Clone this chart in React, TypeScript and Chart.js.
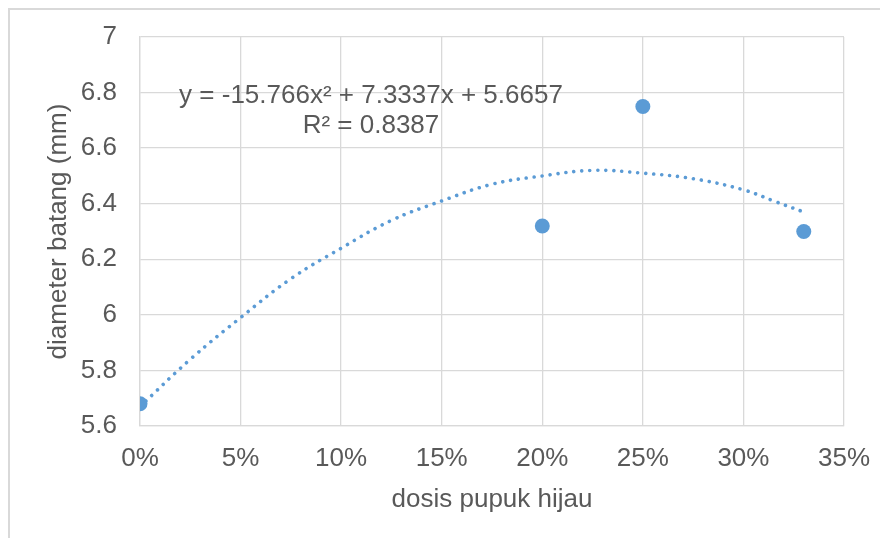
import React, { useEffect, useRef } from "react";
import { Chart, registerables } from "chart.js";

Chart.register(...registerables);

const xTicks = [0, 0.05, 0.1, 0.15, 0.2, 0.25, 0.3, 0.35];
const yTicks = [5.6, 5.8, 6, 6.2, 6.4, 6.6, 6.8, 7];
const dosis = [0, 0.2, 0.25, 0.33];
const diameter = [5.68, 6.32, 6.75, 6.3];
const trendX = [0, 0.025, 0.05, 0.075, 0.1, 0.125, 0.15, 0.175, 0.2, 0.225, 0.25, 0.275, 0.3, 0.315, 0.33];
const trendY = [5.67, 5.84, 5.99, 6.13, 6.24, 6.34, 6.41, 6.47, 6.5, 6.52, 6.51, 6.49, 6.45, 6.41, 6.37];
const equationLines = ["y = -15.766x² + 7.3337x + 5.6657", "R² = 0.8387"];
const xTitle = "dosis pupuk hijau";
const yTitle = "diameter batang (mm)";

const FONT = "'Liberation Sans', Arial, sans-serif";
const TEXT = "#595959";
const GRID = "#D9D9D9";
const BLUE = "#5B9BD5";

const equationPlugin = {
  id: "equation",
  afterDatasetsDraw(chart: any) {
    const ctx = chart.ctx;
    ctx.save();
    ctx.font = `26px ${FONT}`;
    ctx.fillStyle = TEXT;
    ctx.textAlign = "center";
    ctx.textBaseline = "alphabetic";
    equationLines.forEach((t, i) => ctx.fillText(t, 363, 95 + i * 30));
    ctx.restore();
  },
};

export default function App() {
  const ref = useRef<HTMLCanvasElement>(null);
  useEffect(() => {
    if (!ref.current) return;
    const chart = new Chart(ref.current, {
      type: "scatter",
      data: {
        datasets: [
          {
            label: "data",
            data: dosis.map((x, i) => ({ x, y: diameter[i] })),
            backgroundColor: BLUE,
            borderColor: BLUE,
            pointRadius: 7.5,
            pointHoverRadius: 7.5,
            borderWidth: 0,
          },
          {
            label: "trend",
            data: trendX.map((x, i) => ({ x, y: trendY[i] })),
            showLine: true,
            borderColor: BLUE,
            borderWidth: 3.6,
            borderDash: [0.001, 8],
            borderCapStyle: "round",
            pointRadius: 0,
            tension: 0.4,
          } as any,
        ],
      },
      options: {
        animation: false,
        responsive: false,
        layout: { padding: { top: 29, right: 44, bottom: 0, left: 0 } },
        plugins: { legend: { display: false }, tooltip: { enabled: false }, title: { display: false } },
        scales: {
          x: {
            type: "linear",
            min: 0,
            max: 0.35,
            afterFit: (s: any) => {
              s.height = 112;
              s.paddingLeft = 0;
              s.paddingRight = 0;
            },
            afterBuildTicks: (s: any) => {
              s.ticks = xTicks.map((v) => ({ value: v }));
            },
            ticks: {
              callback: (v: any) => Math.round(Number(v) * 100) + "%",
              color: TEXT,
              font: { family: FONT, size: 26 },
              padding: 17,
              maxRotation: 0,
            },
            grid: { color: GRID, lineWidth: 1.3, drawTicks: false },
            border: { color: GRID, width: 1.3 },
            title: {
              display: true,
              text: xTitle,
              color: TEXT,
              font: { family: FONT, size: 26 },
              padding: { top: 0, bottom: 23 },
            },
          },
          y: {
            type: "linear",
            min: 5.6,
            max: 7,
            afterFit: (s: any) => {
              s.width = 132;
              s.paddingTop = 0;
              s.paddingBottom = 0;
            },
            afterBuildTicks: (s: any) => {
              s.ticks = yTicks.map((v) => ({ value: v }));
            },
            ticks: {
              callback: (v: any) => String(Number(Number(v).toFixed(1))),
              color: TEXT,
              font: { family: FONT, size: 26 },
              padding: 23,
            },
            grid: { color: GRID, lineWidth: 1.3, drawTicks: false },
            border: { color: GRID, width: 1.3 },
            title: {
              display: true,
              text: yTitle,
              color: TEXT,
              font: { family: FONT, size: 26 },
              padding: { top: 35, bottom: 0 },
            },
          },
        },
      },
      plugins: [equationPlugin],
    });
    return () => chart.destroy();
  }, []);

  return (
    <div
      style={{
        position: "relative",
        width: 880,
        height: 530,
        boxSizing: "border-box",
        borderLeft: `2px solid ${GRID}`,
        borderTop: `2px solid ${GRID}`,
      }}
    >
      <canvas ref={ref} width={880} height={530} style={{ position: "absolute", left: -2, top: -2 }} />
    </div>
  );
}
